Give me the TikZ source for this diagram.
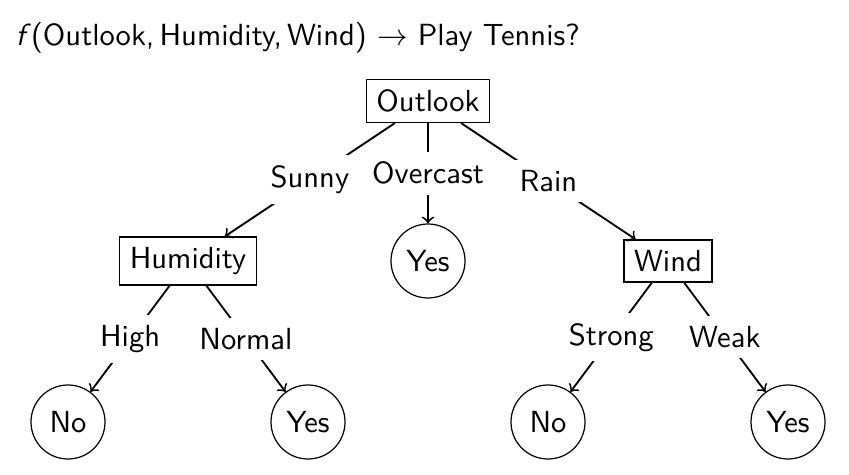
\documentclass[tikz,border=0pt]{standalone}
\usepackage{amssymb}
\usepackage{amsmath}
\usepackage{tikz}
\usetikzlibrary{arrows,positioning}
\tikzset{>=to}
\tikzstyle{attr}=[draw, thin, text centered, inner sep=3.33pt]
\tikzstyle{leaf}=[draw, thin, circle, minimum size=24.2pt, inner sep=1pt]
\tikzstyle{val}=[fill=white, inner sep=3.33pt]
\def\ux{0.327pt}
\def\uy{-0.327pt}

\begin{document}
\begin{tikzpicture}[x=\ux,y=\uy, font=\sffamily, semithick]
		\useasboundingbox (0,0) rectangle (849,475);
		\node[anchor=base west, inner sep=0] (title) at (15,46)
			{{\itshape f}\/(Outlook,\,Humidity,\,Wind) $\rightarrow$ Play Tennis?};

		\node[attr] (outlook) at (428,101) {Outlook};
		\node[attr] (humidity) at (188,261) {Humidity};
		\node[leaf] (overcast) at (428,261) {Yes};
		\node[attr] (wind) at (668,261) {Wind};
		\foreach \x/\t [count=\i] in {68/No,308/Yes,548/No,788/Yes}{
			\node[leaf] (leaf\i) at (\x,422) {\t};
		}

		\draw[->] (outlook) -- node[val] {Sunny} (humidity);
		\draw[->] (outlook) -- node[val] {Overcast} (overcast);
		\draw[->] (outlook) -- node[val] {Rain} (wind);
		\draw[->] (humidity) -- node[val] {High} (leaf1);
		\draw[->] (humidity) -- node[val] {Normal} (leaf2);
		\draw[->] (wind) -- node[val] {Strong} (leaf3);
		\draw[->] (wind) -- node[val] {Weak} (leaf4);
\end{tikzpicture}
\end{document}
